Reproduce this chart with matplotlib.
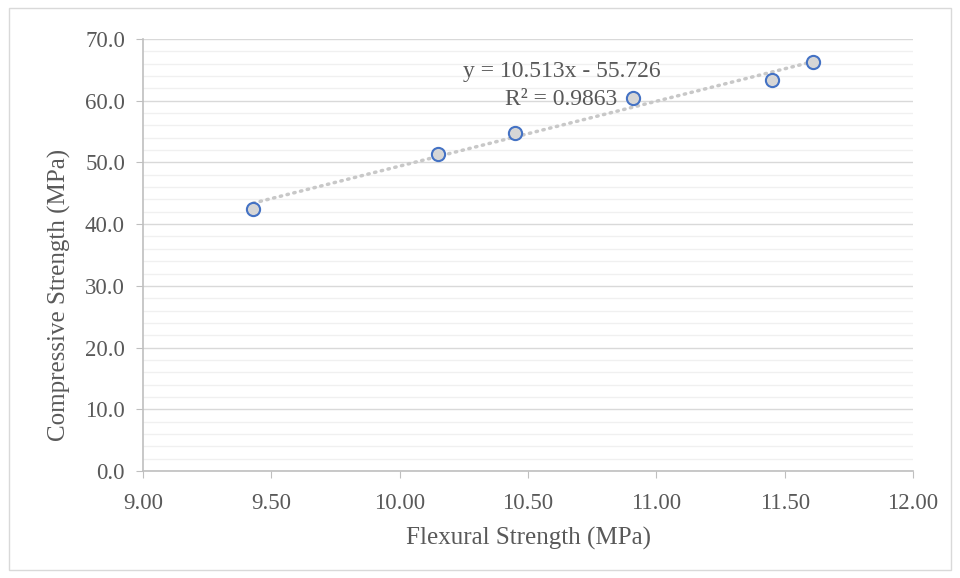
import numpy as np
import matplotlib
matplotlib.use("Agg")
import matplotlib.pyplot as plt
from matplotlib.patches import Rectangle
from matplotlib.ticker import MultipleLocator, FuncFormatter

flexural = [9.43, 10.15, 10.45, 10.91, 11.45, 11.61]
compressive = [42.4, 51.4, 54.7, 60.5, 63.4, 66.2]
slope = 10.513
intercept = -55.726
eq_text = "y = 10.513x - 55.726"
r2_text = "R² = 0.9863"

plt.rcParams["font.family"] = ["Liberation Serif", "DejaVu Serif"]
text_color = "#595959"

fig = plt.figure(figsize=(9.6, 5.78), dpi=100)
ax = fig.add_axes([143 / 960, 1 - 471 / 578, (913 - 143) / 960, (471 - 39) / 578])

# outer chart border
fig.patches.append(Rectangle((9 / 960, 8 / 578), 942 / 960, 562 / 578,
                             transform=fig.transFigure, fill=False,
                             edgecolor="#d9d9d9", linewidth=1))

ax.set_xlim(9, 12)
ax.set_ylim(0, 70)
ax.xaxis.set_major_locator(MultipleLocator(0.5))
ax.yaxis.set_major_locator(MultipleLocator(10))
ax.yaxis.set_minor_locator(MultipleLocator(2))
ax.yaxis.set_major_formatter(FuncFormatter(lambda v, p: f"{v:.1f}"))
ax.xaxis.set_major_formatter(FuncFormatter(lambda v, p: f"{v:.2f}"))

ax.grid(which="major", axis="y", color="#d9d9d9", linewidth=1)
ax.grid(which="minor", axis="y", color="#f0f0f0", linewidth=1)
ax.set_axisbelow(True)

for s in ["top", "right"]:
    ax.spines[s].set_visible(False)
for s in ["left", "bottom"]:
    ax.spines[s].set_color("#bfbfbf")
    ax.spines[s].set_linewidth(1.2)

ax.tick_params(which="major", length=5, color="#bfbfbf", labelsize=16.5, labelcolor=text_color)
ax.tick_params(axis="y", which="major", pad=8)
ax.tick_params(axis="x", which="major", pad=11)
ax.tick_params(which="minor", length=0)

# trendline
xs = np.array([min(flexural), max(flexural)])
ax.plot(xs, slope * xs + intercept, color="#c8c8c8", linewidth=2.5,
        linestyle=(0, (0.4, 1.6)), dash_capstyle="round", zorder=2)

ax.plot(flexural, compressive, linestyle="none", marker="o", markersize=9.5,
        markerfacecolor="#d6d6d6", markeredgecolor="#4472c4", markeredgewidth=1.5, zorder=3)

ax.text(10.63, 64.7, eq_text, ha="center", va="center", fontsize=17, color=text_color)
ax.text(10.63, 60.2, r2_text, ha="center", va="center", fontsize=17, color=text_color)

ax.set_xlabel("Flexural Strength (MPa)", fontsize=18, color=text_color)
ax.set_ylabel("Compressive Strength (MPa)", fontsize=18, color=text_color)
ax.xaxis.set_label_coords(0.5, -0.155)
ax.yaxis.set_label_coords(-0.108, 0.407)
ax.xaxis.label.set_va("center")
ax.yaxis.label.set_va("center")

fig.savefig("out.png", dpi=100)
